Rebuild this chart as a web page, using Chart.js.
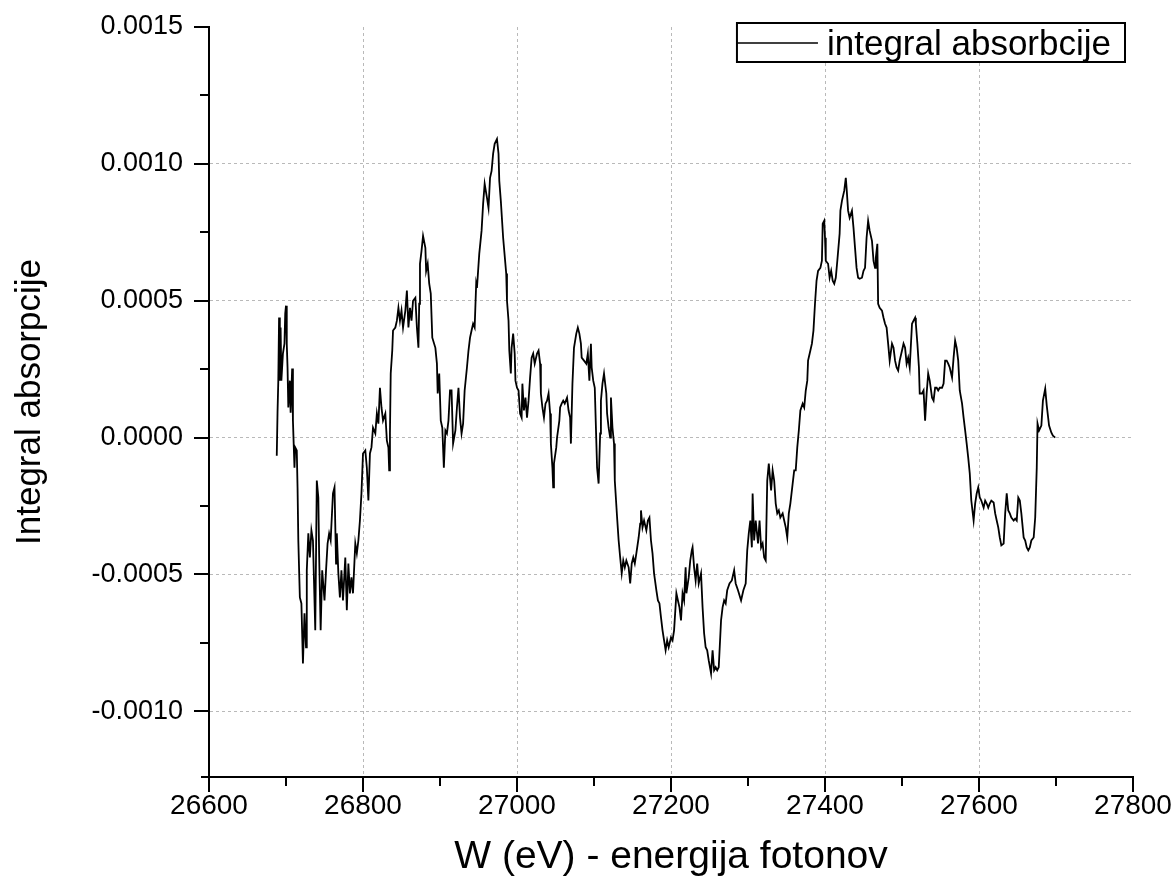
<!DOCTYPE html>
<html>
<head>
<meta charset="utf-8">
<script src="https://cdn.jsdelivr.net/npm/chart.js@4.4.1/dist/chart.umd.min.js"></script>
<style>
html,body{margin:0;padding:0;background:#fff;}
#wrap{width:1176px;height:886px;}
</style>
</head>
<body>
<div id="wrap"><canvas id="c" width="1176" height="886"></canvas></div>
<script>
// ---- data ----
const energy = [
26688,26689,26690,26691,26692,26693,26694,26696,26698,26699,26700,26701,26702,26703,26705,26706,26708,26709,26711,26712,
26714,26715,26716,26718,26720,26722,26724,26726,26727,26729,26731,26733,26735,26738,26740,26742,26743,26745,26747,26750,
26752,26754,26756,26758,26761,26763,26765,26766,26768,26770,26772,26774,26777,26779,26781,26783,26785,26787,26790,26792,
26794,26796,26798,26800,26803,26805,26807,26809,26811,26813,26816,26818,26820,26822,26824,26826,26829,26831,26833,26834,
26835,26836,26838,26839,26842,26844,26846,26848,26850,26852,26855,26857,26859,26861,26863,26865,26868,26870,26872,26873,
26874,26876,26878,26881,26882,26884,26886,26888,26890,26894,26896,26897,26899,26901,26903,26905,26907,26909,26911,26913,
26915,26917,26920,26922,26924,26926,26928,26930,26932,26935,26937,26939,26941,26943,26945,26947,26948,26951,26954,26956,
26958,26961,26963,26965,26967,26969,26971,26974,26976,26977,26979,26982,26986,26987,26989,26990,26992,26993,26995,26997,
26998,27000,27002,27004,27006,27007,27009,27011,27013,27015,27017,27019,27021,27023,27026,27028,27030,27031,27033,27035,
27037,27039,27041,27043,27044,27046,27047,27048,27051,27052,27055,27056,27058,27060,27062,27065,27067,27069,27070,27072,
27074,27077,27079,27081,27083,27084,27087,27090,27092,27094,27096,27097,27099,27101,27104,27106,27108,27109,27111,27113,
27116,27117,27119,27121,27122,27124,27126,27127,27130,27132,27134,27136,27138,27140,27142,27145,27147,27149,27151,27153,
27155,27158,27160,27161,27163,27165,27168,27170,27172,27174,27176,27178,27181,27183,27185,27187,27189,27191,27193,27195,
27197,27200,27202,27204,27207,27209,27211,27213,27215,27217,27219,27220,27223,27225,27227,27228,27230,27232,27234,27236,
27239,27241,27243,27245,27247,27249,27252,27254,27256,27258,27260,27262,27265,27267,27269,27271,27273,27276,27279,27282,
27284,27287,27291,27294,27297,27299,27301,27303,27305,27306,27308,27310,27313,27315,27317,27319,27321,27323,27325,27327,
27330,27332,27334,27336,27338,27340,27342,27345,27347,27349,27351,27353,27355,27358,27360,27362,27364,27366,27368,27371,
27373,27375,27377,27378,27381,27383,27385,27387,27389,27391,27394,27396,27397,27399,27400,27401,27404,27406,27408,27410,
27412,27414,27416,27419,27420,27422,27425,27427,27428,27430,27432,27435,27437,27439,27441,27443,27445,27448,27450,27452,
27454,27456,27458,27461,27463,27465,27466,27468,27469,27471,27474,27476,27478,27480,27482,27484,27487,27489,27491,27493,
27495,27497,27500,27502,27504,27506,27508,27510,27513,27515,27517,27518,27520,27522,27523,27526,27528,27530,27532,27534,
27536,27539,27541,27543,27545,27547,27549,27552,27554,27556,27558,27560,27562,27565,27567,27569,27571,27573,27575,27578,
27580,27582,27584,27586,27588,27590,27593,27595,27597,27599,27601,27603,27606,27608,27610,27612,27614,27616,27619,27621,
27623,27625,27627,27629,27632,27634,27636,27638,27640,27642,27645,27647,27649,27651,27653,27655,27658,27660,27662,27664,
27666,27668,27671,27673,27675,27676,27678,27681,27683,27686,27688,27691,27694,27696,27699
];
const absorption = [
-0.000066,0.000092,0.000208,0.000439,0.000208,0.000402,0.000208,0.000307,0.000343,0.000453,0.000482,0.000343,0.000256,0.00011,0.000208,0.000091,0.000252,0.000062,-0.00011,-0.000036,
-0.000047,-0.000182,-0.000376,-0.000584,-0.000606,-0.000825,-0.000642,-0.000766,-0.000485,-0.00035,-0.000438,-0.000339,-0.000376,-0.000704,-0.000157,-0.000219,-0.000423,-0.000704,-0.000485,-0.000595,
-0.000485,-0.000387,-0.00035,-0.000376,-0.000204,-0.000182,-0.00046,-0.00035,-0.000496,-0.000584,-0.000485,-0.000595,-0.000438,-0.000631,-0.00046,-0.000569,-0.000511,-0.000569,-0.000387,-0.000423,
-0.000376,-0.000303,-0.000204,-0.000058,-0.000047,-0.00011,-0.00023,-0.000058,-0.000036,0.000036,0.000015,0.000088,0.000051,0.000182,0.00011,0.000062,0.000088,-0.000011,-0.000036,-0.00012,
0.000015,0.000234,0.000318,0.000391,0.000402,0.000427,0.000474,0.000427,0.000464,0.000402,0.000464,0.000537,0.000402,0.000474,0.000427,0.0005,0.000511,0.000402,0.000328,0.000489,
0.000635,0.000682,0.000737,0.000693,0.000609,0.000635,0.000562,0.000526,0.000365,0.000328,0.00027,0.000161,0.000234,0.000062,0.000036,-0.00011,0.000026,0.000015,0.000062,0.000172,
0.000172,-0.000022,0.000026,0.00011,0.000182,0.000073,0.000015,0.000051,0.000172,0.000256,0.000318,0.000365,0.000391,0.000416,0.000402,0.000562,0.000547,0.000672,0.000756,0.000854,
0.000927,0.000876,0.000839,0.000949,0.000974,0.001037,0.001073,0.001091,0.001037,0.000938,0.000865,0.00073,0.000599,0.0005,0.000427,0.000318,0.000234,0.000328,0.00038,0.000307,
0.000208,0.000182,0.000172,0.000088,0.000073,0.000197,0.000099,0.000146,0.000073,0.000135,0.000219,0.000292,0.000307,0.00027,0.000307,0.000318,0.00027,0.000161,0.00011,0.000073,
0.000124,0.000135,0.000161,0.000088,-0.000022,-0.00011,-0.000182,-0.000095,-0.000036,0,0.000062,0.00011,0.000124,0.000135,0.000124,0.000146,0.000099,0.000073,-0.000022,0.000197,
0.000328,0.00038,0.000402,0.00038,0.000343,0.000292,0.000281,0.00027,0.000307,0.000208,0.000343,0.000256,0.000208,0.000182,-0.00011,-0.000168,0.000015,0.000135,0.000197,0.000234,
0.000161,0.000088,0.000036,0,0.000146,0.000036,-0.000022,-0.000157,-0.000292,-0.000376,-0.000438,-0.000496,-0.000449,-0.000474,-0.000449,-0.000474,-0.000533,-0.00046,-0.000438,-0.00046,
-0.000423,-0.000365,-0.000314,-0.000266,-0.000328,-0.000303,-0.000339,-0.000303,-0.000292,-0.000376,-0.000423,-0.000496,-0.000558,-0.000595,-0.000606,-0.000657,-0.000704,-0.000741,-0.000777,-0.000741,
-0.000766,-0.00073,-0.000741,-0.000704,-0.000569,-0.000595,-0.00062,-0.000668,-0.000569,-0.000595,-0.000474,-0.000569,-0.000511,-0.000449,-0.000412,-0.000401,-0.000474,-0.000522,-0.00046,-0.000533,
-0.000496,-0.00062,-0.000715,-0.000766,-0.000777,-0.000814,-0.000861,-0.000777,-0.00085,-0.000839,-0.00085,-0.000839,-0.000668,-0.00062,-0.000595,-0.000606,-0.000558,-0.000533,-0.000522,-0.000485,
-0.000533,-0.000558,-0.000595,-0.000558,-0.000533,-0.000412,-0.00035,-0.000303,-0.000401,-0.000204,-0.000376,-0.000303,-0.000387,-0.000303,-0.000401,-0.000387,-0.000438,-0.000449,-0.000157,-0.000095,
-0.000193,-0.00012,-0.000157,-0.000241,-0.000277,-0.000266,-0.000292,-0.000277,-0.000303,-0.000328,-0.000365,-0.000277,-0.000241,-0.000168,-0.00012,-0.00012,-0.000036,0.000026,0.000099,0.000124,
0.00011,0.000172,0.000208,0.000281,0.000318,0.000343,0.000391,0.000489,0.000573,0.000609,0.00062,0.000646,0.000781,0.000792,0.00073,0.000646,0.000635,0.000584,0.000609,0.000573,
0.000562,0.000584,0.000646,0.000745,0.000829,0.000865,0.000902,0.000949,0.000913,0.000829,0.000803,0.000829,0.000767,0.000693,0.00062,0.000584,0.00058,0.000584,0.000609,0.00062,
0.00073,0.000792,0.000756,0.000719,0.000646,0.00062,0.000657,0.000708,0.000489,0.000474,0.000464,0.000438,0.000416,0.000402,0.000343,0.000281,0.000343,0.000328,0.000281,0.000256,
0.000245,0.000281,0.000318,0.000343,0.000328,0.00027,0.000292,0.000256,0.000416,0.000427,0.000438,0.000416,0.000343,0.000256,0.000161,0.000161,0.000172,0.000062,0.000161,0.000234,
0.000208,0.000146,0.000135,0.000182,0.000182,0.000172,0.000182,0.000182,0.000197,0.000281,0.000281,0.00027,0.000256,0.000219,0.000292,0.000354,0.000328,0.000281,0.000172,0.000124,
0.000073,0.000026,-0.000022,-0.000073,-0.000131,-0.00023,-0.000303,-0.000241,-0.000204,-0.000182,-0.000219,-0.00023,-0.000256,-0.00023,-0.000241,-0.000256,-0.000241,-0.00023,-0.000237,-0.000277,
-0.000303,-0.000328,-0.000365,-0.000394,-0.000387,-0.000277,-0.000204,-0.000266,-0.000277,-0.000292,-0.000303,-0.000296,-0.000303,-0.000219,-0.00023,-0.000277,-0.000365,-0.000376,-0.000401,-0.000412,
-0.000401,-0.000376,-0.000365,-0.000292,-0.00011,0.000051,0.000026,0.000044,0.000135,0.000179,0.000117,0.000044,0.000018,0.000007,0
];
const xMajorTicks = [26600, 26800, 27000, 27200, 27400, 27600, 27800];
const xMinorTicks = [26700, 26900, 27100, 27300, 27500, 27700];
const yMajorTicks = [-0.0010, -0.0005, 0.0000, 0.0005, 0.0010, 0.0015];
const yMinorTicks = [-0.00075, -0.00025, 0.00025, 0.00075, 0.00125];
const xRange = [26600, 27800];
const yRange = [-0.00124, 0.0015];
const seriesLabel = 'integral absorbcije';
const xTitle = 'W (eV) - energija fotonov';
const yTitle = 'Integral absorpcije';

// ---- drawing ----
const FONT = "'Liberation Sans', Arial, sans-serif";

const axisTicks = {
  id: 'axisTicks',
  afterDraw(chart) {
    const {ctx, chartArea: a, scales: {x, y}} = chart;
    ctx.save();
    ctx.strokeStyle = '#000';
    ctx.lineWidth = 2;
    ctx.beginPath();
    const xt = (vals, len) => vals.forEach(v => {
      const p = Math.round(x.getPixelForValue(v));
      ctx.moveTo(p, a.bottom); ctx.lineTo(p, a.bottom + len);
    });
    const yt = (vals, len) => vals.forEach(v => {
      const p = Math.round(y.getPixelForValue(v));
      ctx.moveTo(a.left, p); ctx.lineTo(a.left - len, p);
    });
    xt(xMajorTicks, 15); xt(xMinorTicks, 9);
    yt(yMajorTicks, 15); yt(yMinorTicks, 9);
    // short stub of the x axis beyond the y axis, as in the original
    const yb = Math.round(a.bottom);
    ctx.moveTo(a.left - 8, yb); ctx.lineTo(a.left, yb);
    ctx.stroke();
    ctx.restore();
  }
};

const boxedLegend = {
  id: 'boxedLegend',
  afterDraw(chart) {
    const {ctx, chartArea: a} = chart;
    const ds = chart.data.datasets[0];
    ctx.save();
    ctx.font = '35px ' + FONT;
    const tw = ctx.measureText(ds.label).width;
    const lineLen = 81, gap = 9, padR = 14, h = 39;
    const w = lineLen + gap + tw + padR;
    const right = a.right - 8, top = a.top - 4;
    const left = right - w;
    ctx.fillStyle = '#fff';
    ctx.fillRect(left, top, w, h);
    ctx.strokeStyle = '#000';
    ctx.lineWidth = 2;
    ctx.strokeRect(left, top, w, h);
    ctx.lineWidth = 1.5;
    ctx.beginPath();
    ctx.moveTo(left, top + 20); ctx.lineTo(left + lineLen, top + 20);
    ctx.stroke();
    ctx.fillStyle = '#000';
    ctx.textBaseline = 'alphabetic';
    ctx.textAlign = 'left';
    ctx.fillText(ds.label, left + lineLen + gap, top + 32);
    ctx.restore();
  }
};

const gridColor = (range) => (c) => {
  const v = c.tick ? c.tick.value : null;
  return (v !== null && v > range[0] + 1e-12 && v < range[1] - 1e-12) ? '#b9b9b9' : 'rgba(0,0,0,0)';
};

new Chart(document.getElementById('c'), {
  type: 'line',
  data: {
    datasets: [{
      label: seriesLabel,
      data: energy.map((e, i) => ({x: e, y: absorption[i]})),
      borderColor: '#000',
      backgroundColor: '#000',
      borderWidth: 1.8,
      pointRadius: 0,
      tension: 0,
      fill: false
    }]
  },
  options: {
    responsive: false,
    animation: false,
    devicePixelRatio: 1,
    layout: {padding: {top: 27, right: 43, bottom: 0, left: 0}},
    plugins: {legend: {display: false}, tooltip: {enabled: false}},
    scales: {
      x: {
        type: 'linear',
        min: xRange[0], max: xRange[1],
        afterBuildTicks: s => { s.ticks = xMajorTicks.map(v => ({value: v})); },
        afterFit: s => { s.height = 109; s.paddingLeft = 0; s.paddingRight = 0; },
        ticks: {
          callback: v => String(v),
          font: {family: FONT, size: 28},
          color: '#000', padding: 12, maxRotation: 0, autoSkip: false
        },
        grid: {drawTicks: false, color: gridColor(xRange), lineWidth: 1},
        border: {display: true, color: '#000', width: 2, dash: [3, 3]},
        title: {display: true, text: xTitle, font: {family: FONT, size: 39}, color: '#000', padding: {top: 0, bottom: 5}}
      },
      y: {
        type: 'linear',
        min: yRange[0], max: yRange[1],
        afterBuildTicks: s => { s.ticks = yMajorTicks.map(v => ({value: v})); },
        afterFit: s => { s.width = 209; s.paddingTop = 0; s.paddingBottom = 0; },
        ticks: {
          callback: v => v.toFixed(4),
          font: {family: FONT, size: 27},
          color: '#000', padding: 26, autoSkip: false
        },
        grid: {drawTicks: false, color: gridColor(yRange), lineWidth: 1},
        border: {display: true, color: '#000', width: 2, dash: [3, 3]},
        title: {display: true, text: yTitle, font: {family: FONT, size: 35}, color: '#000', padding: {top: 9, bottom: 0}}
      }
    }
  },
  plugins: [axisTicks, boxedLegend]
});
</script>
</body>
</html>
